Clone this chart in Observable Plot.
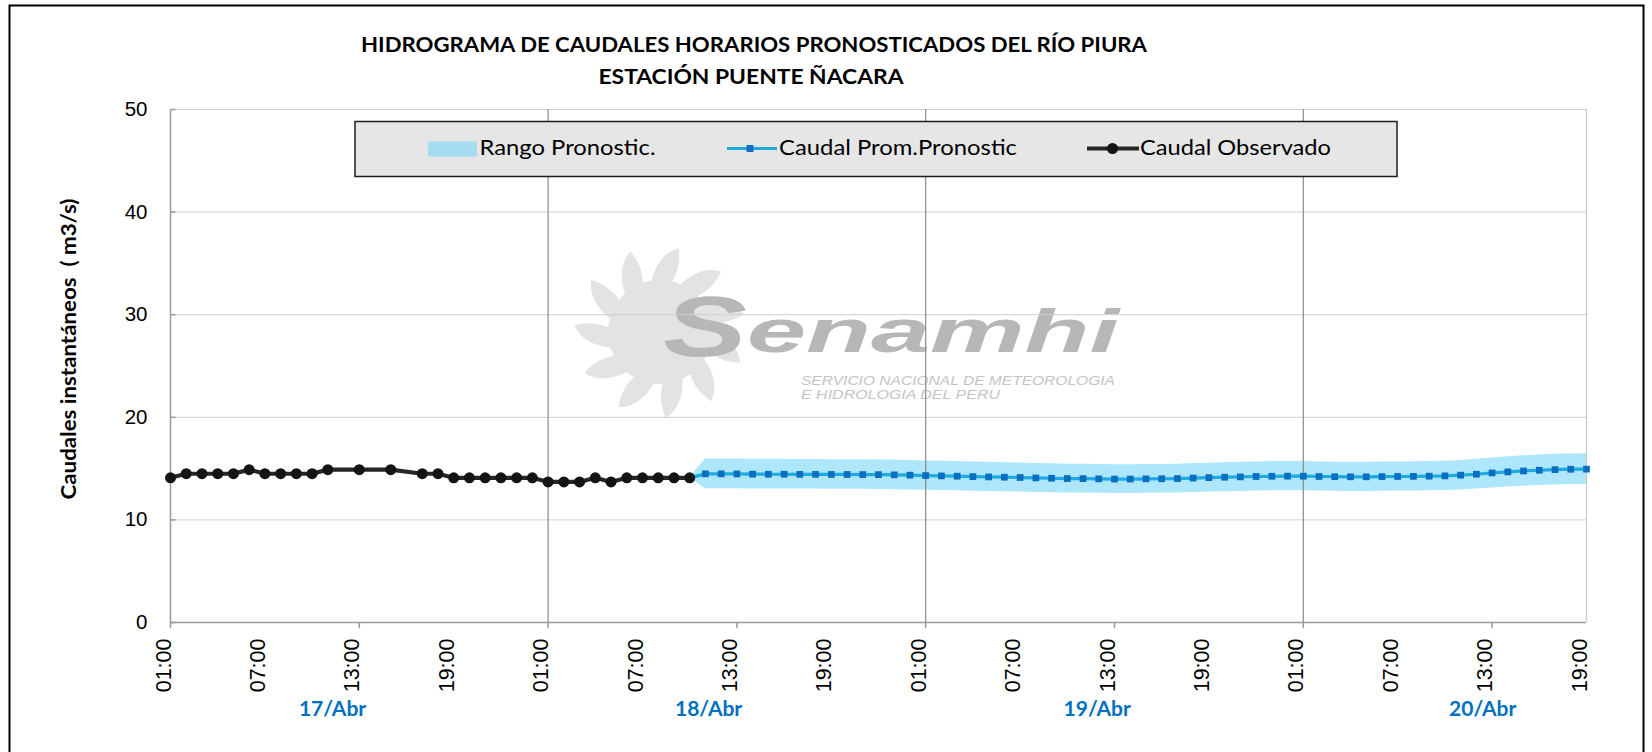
<!DOCTYPE html>
<html><head><meta charset="utf-8">
<script src="https://cdn.jsdelivr.net/npm/d3@7"></script>
<script src="https://cdn.jsdelivr.net/npm/@observablehq/plot@0.6"></script>
<style>body{margin:0;background:#fff} #chart svg{display:block}</style>
</head><body><div id="chart"></div>
<script>
// ---- data (hours counted from 17/Abr 01:00) ----
const obsHours = [0,1,2,3,4,5,6,7,8,9,10,12,14,16,17,18,19,20,21,22,23,24,25,26,27,28,29,30,31,32,33];
const obsValues = [14.1,14.5,14.5,14.5,14.5,14.9,14.5,14.5,14.5,14.5,14.9,14.9,14.9,14.5,14.5,14.1,14.1,14.1,14.1,14.1,14.1,13.7,13.7,13.7,14.1,13.7,14.1,14.1,14.1,14.1,14.1];

const fcHours = [34,35,36,37,38,39,40,41,42,43,44,45,46,47,48,49,50,51,52,53,54,55,56,57,58,59,60,61,62,63,64,65,66,67,68,69,70,71,72,73,74,75,76,77,78,79,80,81,82,83,84,85,86,87,88,89,90];
const fcValues = [14.49,14.49,14.48,14.46,14.45,14.45,14.44,14.44,14.43,14.43,
  14.42,14.41,14.39,14.36,14.32,14.29,14.26,14.22,14.19,14.16,
  14.13,14.09,14.06,14.03,14.02,14.00,13.98,13.98,14.00,14.01,
  14.03,14.08,14.12,14.16,14.19,14.23,14.25,14.26,14.26,14.23,
  14.21,14.20,14.20,14.22,14.23,14.24,14.26,14.29,14.36,14.45,
  14.58,14.68,14.77,14.84,14.90,14.94,14.95];

const bandHours = [33,34,35,36,37,38,39,40,41,42,43,44,45,46,47,48,49,50,51,52,53,54,55,56,57,58,59,60,61,62,63,64,65,66,67,68,69,70,71,72,73,74,75,76,77,78,79,80,81,82,83,84,85,86,87,88,89,90];
const bandHigh = [14.1,
  15.94,15.94,15.93,15.91,15.90,15.90,15.88,15.88,15.87,15.87,
  15.86,15.85,15.83,15.80,15.75,15.72,15.69,15.64,15.61,15.58,
  15.54,15.50,15.47,15.43,15.42,15.40,15.38,15.38,15.40,15.41,
  15.43,15.49,15.53,15.58,15.61,15.65,15.68,15.69,15.69,15.65,
  15.63,15.62,15.62,15.64,15.65,15.66,15.69,15.72,15.80,15.90,
  16.04,16.15,16.25,16.32,16.39,16.43,16.45];
const bandLow = [14.1,
  13.04,13.04,13.03,13.01,13.01,13.01,13.00,13.00,12.99,12.99,
  12.98,12.97,12.95,12.92,12.89,12.86,12.83,12.80,12.77,12.74,
  12.72,12.68,12.65,12.63,12.62,12.60,12.58,12.58,12.60,12.61,
  12.63,12.67,12.71,12.74,12.77,12.81,12.83,12.83,12.83,12.81,
  12.79,12.78,12.78,12.80,12.81,12.82,12.83,12.86,12.92,13.01,
  13.12,13.21,13.29,13.36,13.41,13.45,13.46];

const tickHours = [0,6,12,18,24,30,36,42,48,54,60,66,72,78,84,90];
const tickLabels = ["01:00","07:00","13:00","19:00","01:00","07:00","13:00","19:00","01:00","07:00","13:00","19:00","01:00","07:00","13:00","19:00"];
const tickMarkHours = [0,12,24,36,48,60,72,84];
const dayGridHours = [24,48,72];
const dayLabels = ["17/Abr","18/Abr","19/Abr","20/Abr"];
const dayLabelHours = [10.3,34.2,58.9,83.4];
const yTicks = [0,10,20,30,40,50];
const legendLabels = ["Rango Pronostic.","Caudal Prom.Pronostic","Caudal Observado"];
const titleLines = ["HIDROGRAMA DE CAUDALES HORARIOS PRONOSTICADOS DEL RÍO PIURA","ESTACIÓN PUENTE ÑACARA"];
const yTitle = "Caudales instantáneos  ( m3/s)";

// ---- tables ----
const obs = obsHours.map((h,i)=>({h, v: obsValues[i]}));
const fc = fcHours.map((h,i)=>({h, v: fcValues[i]}));
const fcLine = [obs[obs.length-1], ...fc];
const band = bandHours.map((h,i)=>({h, lo: bandLow[i], hi: bandHigh[i]}));

const LATO = "Lato, 'Open Sans', sans-serif";
const svg = Plot.plot({
  width: 1652, height: 752,
  marginLeft: 170, marginRight: 66, marginTop: 109, marginBottom: 130,
  x: {domain: [0, 90], axis: null},
  y: {domain: [0, 50], axis: null},
  style: {fontFamily: "'Liberation Sans', Arial, sans-serif", fontSize: "20px", color: "#000", background: "#fff"},
  marks: [
    Plot.areaY(band, {x: "h", y1: "lo", y2: "hi", fill: "#aee7fb"}),
    Plot.ruleY(yTicks.slice(1), {stroke: "#cfcfcf", strokeWidth: 1}),
    Plot.ruleX(dayGridHours, {stroke: "#8a8a8a", strokeWidth: 1.2}),
    Plot.ruleX([90], {stroke: "#c8c8c8", strokeWidth: 1.2}),
    Plot.ruleX([0], {stroke: "#9a9a9a", strokeWidth: 1.5}),
    Plot.ruleY([0], {stroke: "#9a9a9a", strokeWidth: 1.5}),
    Plot.ruleX(tickMarkHours, {x: d => d, y1: 0, y2: -0.6, stroke: "#9a9a9a", strokeWidth: 1.5}),
    Plot.ruleY(yTicks, {y: d => d, x1: 0, x2: 0.35, stroke: "#9a9a9a", strokeWidth: 1.5}),
    Plot.text(yTicks, {y: d => d, frameAnchor: "left", text: d => String(d), textAnchor: "end", dx: -23, fontSize: 20.5, fill: "#000"}),
    Plot.text(tickHours, {x: d => d, frameAnchor: "bottom", text: (d, i) => tickLabels[i], rotate: -90, textAnchor: "end", dy: 16, fontSize: 21.5, fill: "#000"}),
    Plot.text(dayLabelHours, {x: d => d, frameAnchor: "bottom", text: (d, i) => dayLabels[i], dy: 93, fill: "#0070c0", fontWeight: "bold", fontSize: 21, fontFamily: LATO}),
    Plot.line(obs, {x: "h", y: "v", stroke: "#262626", strokeWidth: 4.2, strokeLinejoin: "round"}),
    Plot.line(fcLine, {x: "h", y: "v", stroke: "#1fa9e1", strokeWidth: 3.2, strokeLinejoin: "round"}),
    Plot.dot(obs, {x: "h", y: "v", r: 5.5, fill: "#141414"}),
    Plot.dot(fc, {x: "h", y: "v", symbol: "square", r: 3.8, fill: "#0a6fc2"})
  ]
});
document.getElementById("chart").appendChild(svg);

const s = d3.select(svg);
// watermark (behind everything)
const wm = s.insert("g", "g").attr("pointer-events", "none").attr("text-anchor", "start");
const cx = 660, cy = 332, r0 = 48, r1 = 86, n = 11;
const p = d3.path();
for (let i = 0; i < n; i++) {
  const a = i * 2 * Math.PI / n - Math.PI / 2, w = 0.2, sw = 0.22;
  const pt = (r, t) => [cx + r * Math.cos(t), cy + r * Math.sin(t)];
  const b1 = pt(r0, a - w), b2 = pt(r0, a + w), tip = pt(r1, a + sw);
  const c1 = pt(r0 + 30, a - w * 0.2), c2 = pt(r0 + 18, a + w + sw * 0.6);
  p.moveTo(...b1); p.quadraticCurveTo(...c1, ...tip); p.quadraticCurveTo(...c2, ...b2); p.closePath();
}
wm.append("path").attr("d", p.toString()).attr("fill", "#e3e3e3");
wm.append("circle").attr("cx", cx).attr("cy", cy).attr("r", r0 + 4).attr("fill", "#e3e3e3");
wm.append("text").attr("x", 663).attr("y", 356).text("S")
  .attr("font-family", "'Liberation Sans', Arial, sans-serif").attr("font-weight", "bold").attr("font-style", "italic")
  .attr("font-size", 86).attr("fill", "#b7b7b7").attr("textLength", 84).attr("lengthAdjust", "spacingAndGlyphs");
wm.append("text").attr("x", 747).attr("y", 352).text("enamhi")
  .attr("font-family", "'Liberation Sans', Arial, sans-serif").attr("font-weight", "bold").attr("font-style", "italic")
  .attr("font-size", 62).attr("fill", "#b7b7b7").attr("textLength", 372).attr("lengthAdjust", "spacingAndGlyphs");
wm.append("text").attr("x", 801).attr("y", 385).text("SERVICIO NACIONAL DE METEOROLOGIA")
  .attr("font-family", "'Liberation Sans', Arial, sans-serif").attr("font-style", "italic")
  .attr("font-size", 13).attr("fill", "#c4c4c4").attr("textLength", 314).attr("lengthAdjust", "spacingAndGlyphs");
wm.append("text").attr("x", 801).attr("y", 399).text("E HIDROLOGIA DEL PERU")
  .attr("font-family", "'Liberation Sans', Arial, sans-serif").attr("font-style", "italic")
  .attr("font-size", 13).attr("fill", "#c4c4c4").attr("textLength", 199).attr("lengthAdjust", "spacingAndGlyphs");

// legend
const lg = s.append("g").attr("text-anchor", "start");
lg.append("rect").attr("x", 355).attr("y", 121.5).attr("width", 1042).attr("height", 55)
  .attr("fill", "#e6e6e6").attr("stroke", "#1e1e1e").attr("stroke-width", 1.5);
lg.append("rect").attr("x", 428).attr("y", 141.5).attr("width", 49).attr("height", 15).attr("fill", "#a6dcf1");
lg.append("line").attr("x1", 727).attr("x2", 777).attr("y1", 148.5).attr("y2", 148.5).attr("stroke", "#1fa9e1").attr("stroke-width", 3);
lg.append("rect").attr("x", 746.5).attr("y", 145).attr("width", 7).attr("height", 7).attr("fill", "#0a6fc2");
lg.append("line").attr("x1", 1087).attr("x2", 1139).attr("y1", 148.5).attr("y2", 148.5).attr("stroke", "#262626").attr("stroke-width", 4);
lg.append("circle").attr("cx", 1112.5).attr("cy", 148.5).attr("r", 5.5).attr("fill", "#141414");
const legX = [479.5, 779, 1140], legW = [176, 238, 191];
legendLabels.forEach((t, i) => {
  lg.append("text").attr("x", legX[i]).attr("y", 155).attr("text-anchor", "start").text(t)
    .attr("font-family", LATO).attr("font-size", 21).attr("fill", "#000")
    .attr("textLength", legW[i]).attr("lengthAdjust", "spacingAndGlyphs");
});

// titles
const tY = [52, 84], tX = [754, 751], tW = [786, 305];
titleLines.forEach((t, i) => {
  s.append("text").attr("x", tX[i]).attr("y", tY[i]).attr("text-anchor", "middle").text(t)
    .attr("font-family", LATO).attr("font-weight", "bold").attr("font-size", 21.5).attr("fill", "#000")
    .attr("textLength", tW[i]).attr("lengthAdjust", "spacingAndGlyphs");
});

// y-axis title
s.append("text").attr("transform", "translate(76,349) rotate(-90)").attr("text-anchor", "middle").text(yTitle)
  .attr("font-family", LATO).attr("font-weight", "bold").attr("font-size", 21).attr("fill", "#000")
  .attr("textLength", 301).attr("lengthAdjust", "spacingAndGlyphs");

// outer border
s.append("rect").attr("x", 9.5).attr("y", 5.5).attr("width", 1634).attr("height", 800)
  .attr("fill", "none").attr("stroke", "#000").attr("stroke-width", 2);
</script>
</body></html>
